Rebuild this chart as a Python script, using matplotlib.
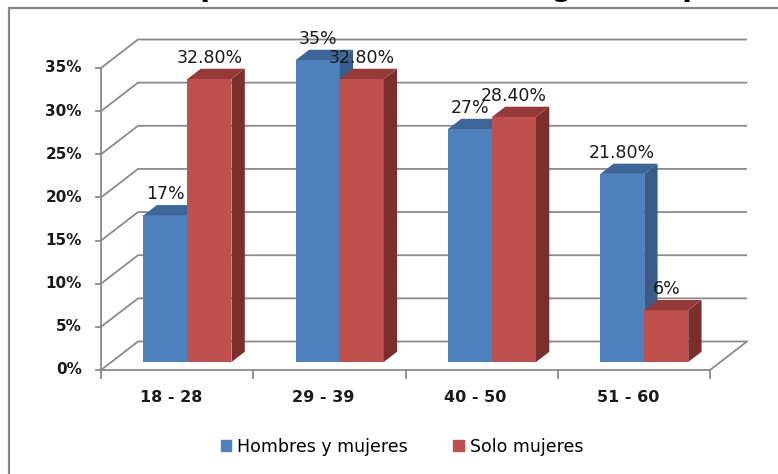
import matplotlib
matplotlib.use("Agg")
import matplotlib.pyplot as plt
from matplotlib.patches import Polygon, Rectangle

# data
categories = ["18 - 28", "29 - 39", "40 - 50", "51 - 60"]
series_names = ["Hombres y mujeres", "Solo mujeres"]
hombres_y_mujeres = [17, 35, 27, 21.8]
solo_mujeres = [32.8, 32.8, 28.4, 6]
labels_hm = ["17%", "35%", "27%", "21.80%"]
labels_sm = ["32.80%", "32.80%", "28.40%", "6%"]
y_ticks = [0, 5, 10, 15, 20, 25, 30, 35]
title = "Comparación de edades según el tipo de muestra"

W, H = 778, 474
fig = plt.figure(figsize=(W / 100, H / 100), dpi=100)
ax = fig.add_axes([0, 0, 1, 1])
ax.axis("off")

# axes scale: category units across, percent up (front plane)
sx = (710 - 101) / 4
sy = (370 - 68) / 35
ax.set_xlim(-101 / sx, len(categories) + (W - 710) / sx)
ax.set_ylim(-(H - 370) / sy, 370 / sy)

# oblique depth offset of the back wall
DX = 37 / sx
DY = 28.5 / sy
grid_c = "#8a8a8a"
n = len(categories)


def P(x, y, f):
    return (x + f * DX, y + f * DY)


# walls / gridlines
for v in y_ticks:
    ax.plot([0, DX, n + DX], [v, v + DY, v + DY], color=grid_c, lw=1.3,
            solid_capstyle="butt", zorder=1)
    ax.plot([-5 / sx, 0], [v, v], color=grid_c, lw=1.3, zorder=1)
    ax.text(-19 / sx, v, f"{v}%", ha="right", va="center", fontsize=11,
            fontweight="bold", color="#1a1a1a")
ax.plot([0, 0], [0, y_ticks[-1]], color=grid_c, lw=1.3, zorder=1)
ax.plot([0, n, n + DX], [0, 0, DY], color=grid_c, lw=1.3, zorder=1)
for i in range(n + 1):
    ax.plot([i, i], [0, -8 / sy], color=grid_c, lw=1.3, zorder=1)
for i, c in enumerate(categories):
    ax.text(i + 0.46, -27 / sy, c, ha="center", va="center", fontsize=11.5,
            fontweight="bold", color="#1a1a1a")

# 3D-looking bars
f0, f1 = 0.28, 0.64
blue = ("#4F81BD", "#385D8A", "#3E6797")
red = ("#C0504D", "#7B2F2D", "#953A38")


def box(x0, x1, h, cols):
    front = [P(x0, 0, f0), P(x1, 0, f0), P(x1, h, f0), P(x0, h, f0)]
    side = [P(x1, 0, f0), P(x1, 0, f1), P(x1, h, f1), P(x1, h, f0)]
    top = [P(x0, h, f0), P(x1, h, f0), P(x1, h, f1), P(x0, h, f1)]
    for pts, col in zip((front, side, top), cols):
        ax.add_patch(Polygon(pts, closed=True, facecolor=col,
                             edgecolor="none", zorder=2))


bw = 0.289
for i in range(n):
    x0 = i + 0.5 - bw
    box(x0, i + 0.5, hombres_y_mujeres[i], blue)
    box(i + 0.5, i + 0.5 + bw, solo_mujeres[i], red)

for i in range(n):
    cx = i + 0.5 - bw / 2 + f0 * DX
    ax.text(cx, hombres_y_mujeres[i] + f1 * DY + 0.7, labels_hm[i],
            ha="center", va="baseline", fontsize=12.5, color="#1a1a1a", zorder=5)
    cx = i + 0.5 + bw / 2 + f0 * DX
    ax.text(cx, solo_mujeres[i] + f1 * DY + 0.7, labels_sm[i],
            ha="center", va="baseline", fontsize=12.5, color="#1a1a1a", zorder=5)

# legend
handles = [Rectangle((0, 0), 1, 1, color=blue[0]),
           Rectangle((0, 0), 1, 1, color=red[0])]
fig.legend(handles, series_names, loc="center", ncol=2,
           bbox_to_anchor=(402 / W, 1 - 447 / H), frameon=False,
           fontsize=12.5, handlelength=0.6, handleheight=0.6,
           handletextpad=0.35, columnspacing=2.6)

# chart border and clipped title (only descenders show)
fig.patches.append(Rectangle((9 / W, -0.1), 1.2, 1.1 - 8 / H,
                             transform=fig.transFigure, fill=False,
                             edgecolor="#868686", lw=1.6))
fig.text(520 / W, 1 + 4.5 / H, title, ha="center", va="baseline",
         fontsize=20, fontweight="bold")

fig.savefig("out.png", dpi=100)
